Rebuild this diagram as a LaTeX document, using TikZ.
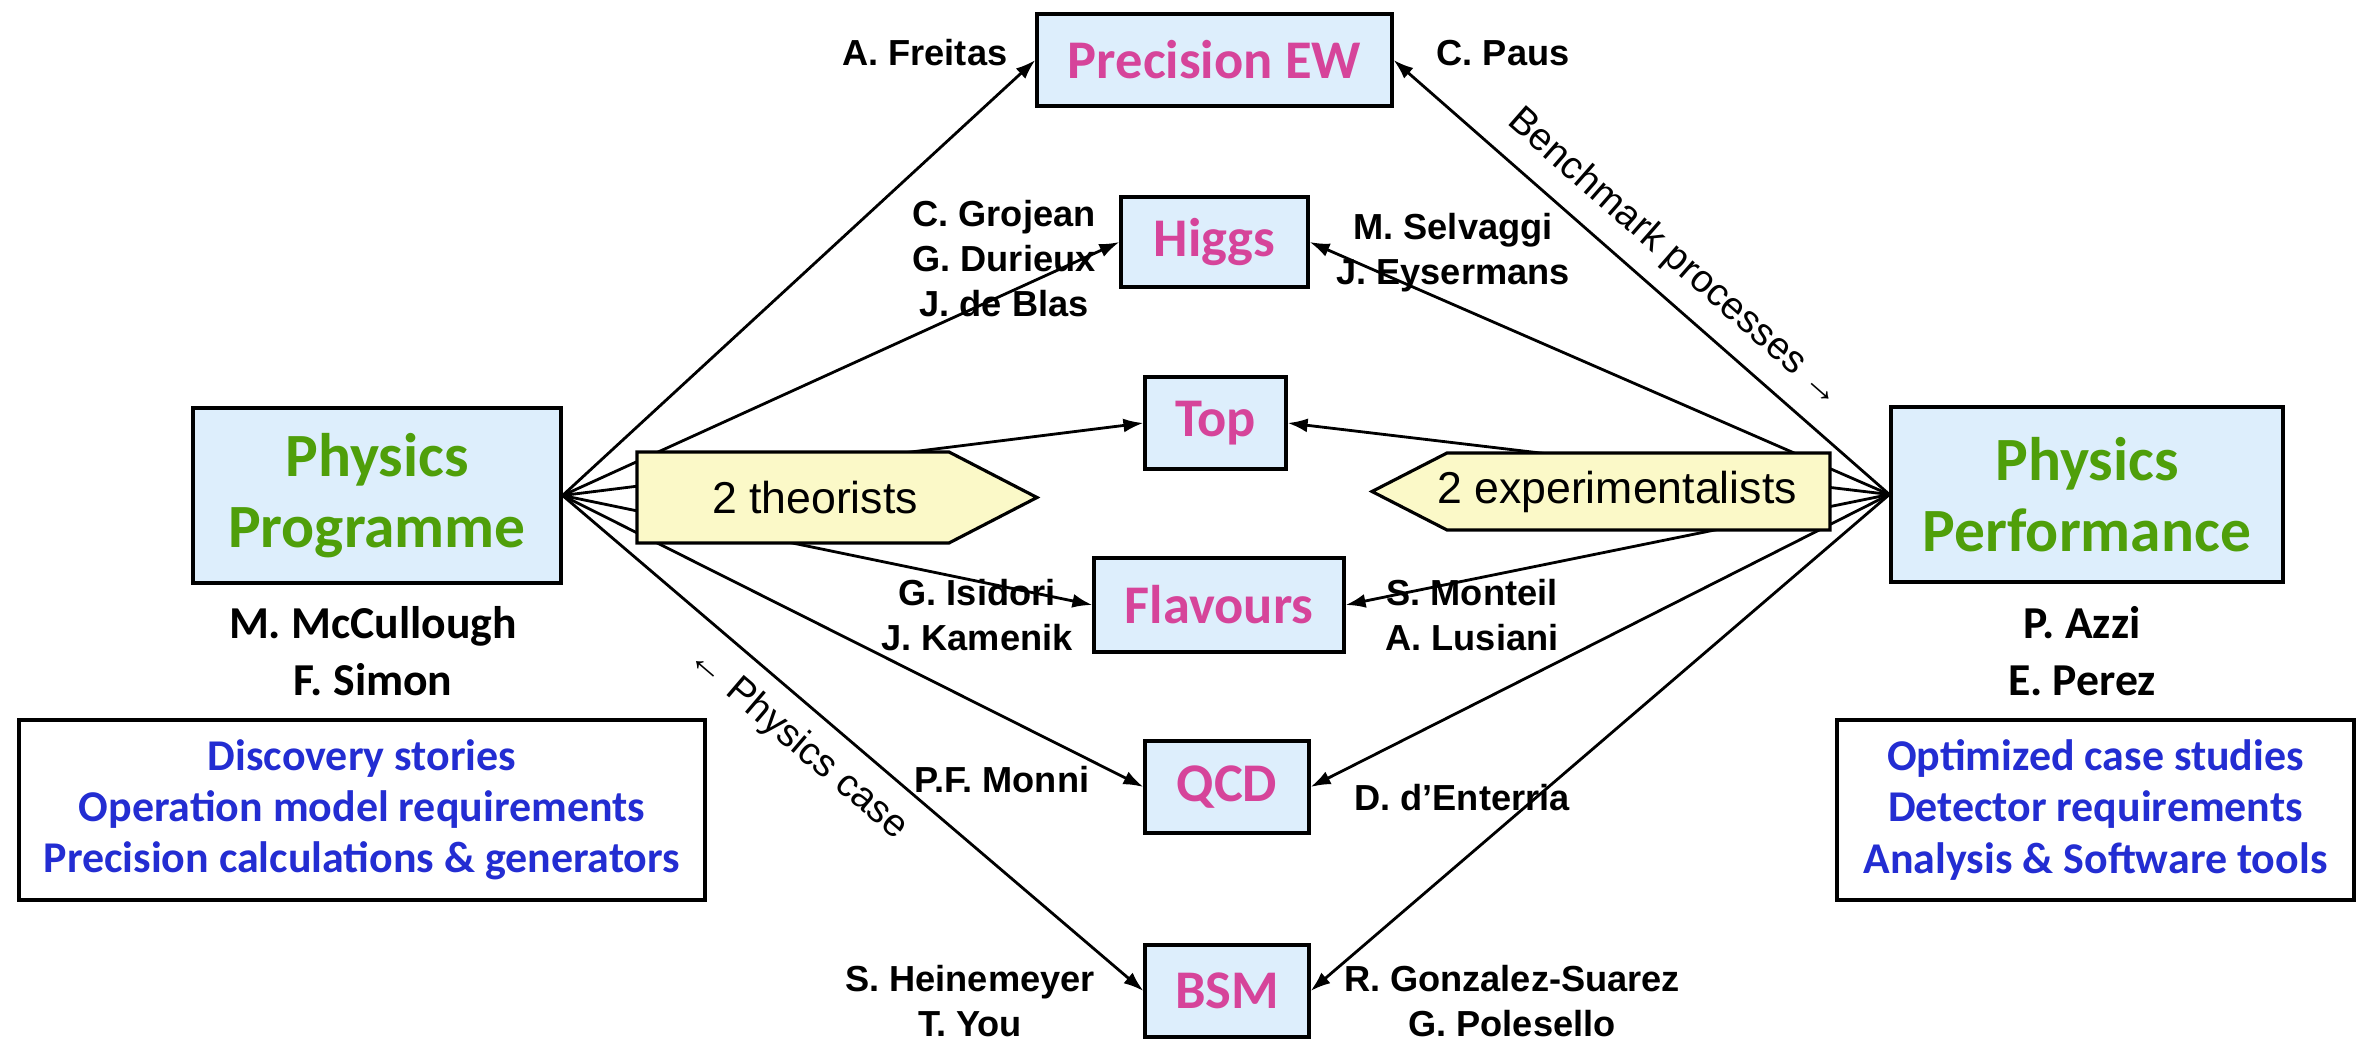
\documentclass[tikz,border=0pt]{standalone}
\usepackage{fontspec}
\setmainfont{Liberation Sans}
\newfontfamily\calibfont{Carlito}
\usetikzlibrary{arrows.meta,positioning}

\definecolor{boxblue}{HTML}{DDEEFC}
\definecolor{tagyellow}{HTML}{FBF9C8}
\definecolor{topicpink}{HTML}{D6449A}
\definecolor{hubgreen}{HTML}{4F9F0A}
\definecolor{listblue}{HTML}{232DD2}

\begin{document}
\begin{tikzpicture}[x=0.1mm, y=-0.1mm, >=Latex]

\tikzset{
  topic/.style={
    rectangle, draw, line width=0.9pt, fill=boxblue,
    inner sep=0pt, minimum height=9.2mm, text=topicpink,
    font=\calibfont\bfseries\fontsize{15.5}{18}\selectfont
  },
  hub/.style={
    rectangle, draw, line width=0.9pt, fill=boxblue, align=center,
    inner sep=0pt, minimum height=17.5mm, text=hubgreen,
    font=\calibfont\bfseries\fontsize{17.5}{20.2}\selectfont
  },
  listbox/.style={
    rectangle, draw, line width=0.9pt, align=center,
    inner sep=0pt, minimum height=18mm, text=listblue,
    font=\calibfont\bfseries\fontsize{12.5}{14.6}\selectfont
  },
  names/.style={align=center, inner sep=0pt, font=\bfseries\fontsize{10.3}{12.8}\selectfont},
  leads/.style={align=center, inner sep=0pt, font=\calibfont\bfseries\fontsize{13}{16.2}\selectfont},
  tagshape/.style={draw, line width=0.9pt, fill=tagyellow},
  tagtext/.style={inner sep=0pt, font=\fontsize{12.7}{15}\selectfont},
  arrow/.style={-{Latex[length=2mm,width=1.4mm]}, line width=0.8pt},
  flowlabel/.style={sloped, font=\fontsize{11}{13}\selectfont}
}

\useasboundingbox (0,0) rectangle (2364,1042);

% ==========================
% Topic boxes (middle column)
% ==========================
\node[topic, minimum width=35.5mm] (ew) at (1214.5,60) {Precision EW};
\node[topic, minimum width=18.7mm, minimum height=9mm] (higgs) at (1214.5,242) {Higgs};
\node[topic, minimum width=14.1mm] (top) at (1215.5,423) {Top};
\node[topic, minimum width=25mm, minimum height=9.4mm] (flav) at (1219,605) {Flavours};
\node[topic, minimum width=16.4mm] (qcd) at (1227,787) {QCD};
\node[topic, minimum width=16.4mm] (bsm) at (1227,991) {BSM};

% ==========================
% Hubs + task lists
% ==========================
\node[hub, minimum width=36.8mm] (prog) at (377,495.5) {Physics\\Programme};
\node[hub, minimum width=39.2mm] (perf) at (2087,494.5) {Physics\\Performance};

\node[leads] (progleads) at (373,651) {M. McCullough\\F. Simon};
\node[leads] (perfleads) at (2082,651) {P. Azzi\\E. Perez};

\node[listbox, minimum width=68.6mm] (proglist) at (362,810)
{Discovery stories\\Operation model requirements\\Precision calculations \& generators};
\node[listbox, minimum width=51.7mm] (perflist) at (2095.5,810)
{Optimized case studies\\Detector requirements\\Analysis \& Software tools};

% ==========================
% Theory side arrows
% ==========================
\draw[arrow] (prog.east) -- (ew.west);
\draw[arrow] (prog.east) -- (higgs.west);
\draw[arrow] (prog.east) -- (top.west);
\draw[arrow] (prog.east) -- (flav.west);
\draw[arrow] (prog.east) -- (qcd.west);
\draw[arrow] (prog.east) -- node[flowlabel, pos=0.445, below=0.5mm] (physcase) {← Physics case} (bsm.west);

% ==========================
% Experiment side arrows
% ==========================
\draw[arrow] (perf.west) -- node[flowlabel, pos=0.48, above=0.5mm] (benchmark) {Benchmark processes →} (ew.east);
\draw[arrow] (perf.west) -- (higgs.east);
\draw[arrow] (perf.west) -- (top.east);
\draw[arrow] (perf.west) -- (flav.east);
\draw[arrow] (perf.west) -- (qcd.east);
\draw[arrow] (perf.west) -- (bsm.east);

% ==========================
% Tags over the fans
% ==========================
\draw[tagshape] (637,452) -- (949,452) -- (1037,497.5) -- (949,543) -- (637,543) -- cycle;
\node[tagtext] (theo) at (815,497.5) {2 theorists};
\draw[tagshape] (1830,453) -- (1447,453) -- (1372,491.5) -- (1447,530) -- (1830,530) -- cycle;
\node[tagtext] (expt) at (1617,491.5) {2 experimentalists};

% ==========================
% Conveners per topic
% ==========================
\node[names, anchor=east] (freitas) at (1008,53) {A. Freitas};
\node[names, anchor=west] (paus) at (1436,53) {C. Paus};
\node[names] (grojean) at (1004,259) {C. Grojean\\G. Durieux\\J. de Blas};
\node[names] (selvaggi) at (1453,253) {M. Selvaggi\\J. Eysermans};
\node[names] (isidori) at (977,615) {G. Isidori\\J. Kamenik};
\node[names] (monteil) at (1472,615) {S. Monteil\\A. Lusiani};
\node[names] (monni) at (1002,780) {P.F. Monni};
\node[names] (enterria) at (1462,798) {D. d’Enterria};
\node[names] (heinemeyer) at (970,1001) {S. Heinemeyer\\T. You};
\node[names] (gonzalez) at (1512,1001) {R. Gonzalez-Suarez\\G. Polesello};

\end{tikzpicture}
\end{document}
